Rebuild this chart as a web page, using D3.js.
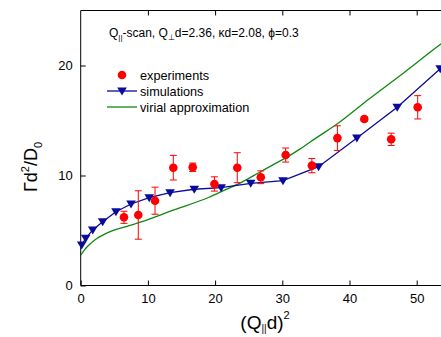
<!DOCTYPE html>
<html><head><meta charset="utf-8">
<script src="https://cdn.jsdelivr.net/npm/d3@7"></script>
<style>body{margin:0;background:#fff}svg{display:block}text{font-family:Arial,"Liberation Sans",sans-serif;fill:#000}</style>
</head><body><svg id="c" width="441" height="337"></svg>
<script>
const simX = [0.15,0.74,1.79,3.27,5.25,7.49,10.2,13.3,16.9,20.9,25.3,30.1,35.4,41.1,47.1,53.5];
const simY = [3.68,4.29,5.05,5.8,6.71,7.41,7.98,8.44,8.75,8.89,9.29,9.53,10.8,13.4,16.2,19.7];
const expX = [6.44,8.57,11.06,13.78,16.67,19.9,23.3,26.8,30.5,34.4,38.2,42.2,46.2,50.15];
const expY = [6.2,6.41,7.71,10.71,10.75,9.23,10.71,9.84,11.86,10.9,13.4,15.14,13.29,16.2];
const expErr = [0.55,2.2,1.23,1.12,0.38,0.65,1.36,0.58,0.64,0.65,1.12,0.2,0.56,1.06];
const virX = [0,0.5,1,2,4,7,9,14,19,21.5,24,26.5,29,30.5,32.6,35,38.2,43,48,53.6,54.5];
const virY = [2.75,3.2,3.55,4.1,4.8,5.4,5.78,6.9,8.0,8.7,9.4,10.25,11.1,11.6,12.4,13.4,14.7,17.0,19.3,21.95,22.35];
const xTicks = [0,10,20,30,40,50];
const yTicks = [0,10,20];

const svg = d3.select("#c");
const x = d3.scaleLinear().domain([0,54]).range([80.7, 80.7+6.72*54]);
const y = d3.scaleLinear().domain([0,25]).range([285.5, 285.5-11*25]);

const red="#ff0000", blue="#0a0a9e", green="#118811";

// frame
svg.append("line").attr("x1",x(0)).attr("x2",x(54)).attr("y1",y(0)).attr("y2",y(0)).attr("stroke","#000");
svg.append("line").attr("x1",x(0)).attr("x2",x(54)).attr("y1",y(25)).attr("y2",y(25)).attr("stroke","#000");
svg.append("line").attr("x1",x(0)).attr("x2",x(0)).attr("y1",y(0)).attr("y2",y(25)).attr("stroke","#000");

// axes
const xb = svg.append("g").attr("transform",`translate(0,${y(0)})`)
  .call(d3.axisBottom(x).tickValues(xTicks).tickSize(-5).tickPadding(8).tickFormat(d3.format("d")));
const xt = svg.append("g").attr("transform",`translate(0,${y(25)})`)
  .call(d3.axisTop(x).tickValues(xTicks.slice(1)).tickSize(-5).tickFormat(""));
const yl = svg.append("g").attr("transform",`translate(${x(0)},0)`)
  .call(d3.axisLeft(y).tickValues(yTicks).tickSize(-5).tickPadding(8).tickFormat(d3.format("d")));
[xb,xt,yl].forEach(g=>{g.select(".domain").remove();g.selectAll("line").attr("stroke","#000");
  g.selectAll("text").attr("font-size",13).style("font-family","Arial, Liberation Sans, sans-serif");});

const clip = svg.append("clipPath").attr("id","cp").append("rect")
  .attr("x",x(0)).attr("y",y(25)).attr("width",x(54)-x(0)).attr("height",y(0)-y(25));
const plot = svg.append("g").attr("clip-path","url(#cp)");

// virial
plot.append("path").datum(virX.map((v,i)=>[v,virY[i]]))
  .attr("d",d3.line().x(d=>x(d[0])).y(d=>y(d[1])).curve(d3.curveMonotoneX))
  .attr("fill","none").attr("stroke",green).attr("stroke-width",1.3);

// simulations
plot.append("path").datum(simX.map((v,i)=>[v,simY[i]]))
  .attr("d",d3.line().x(d=>x(d[0])).y(d=>y(d[1])))
  .attr("fill","none").attr("stroke",blue).attr("stroke-width",1.3);
const tri = "M-4.8,-3.5L4.8,-3.5L0,4.5Z";
svg.append("g").selectAll("path").data(simX).join("path")
  .attr("transform",(d,i)=>`translate(${x(d)},${y(simY[i])})`).attr("d",tri).attr("fill",blue);

// experiments
const eg = svg.append("g");
expX.forEach((v,i)=>{
  const cx=x(v), y1=y(expY[i]+expErr[i]), y2=y(expY[i]-expErr[i]);
  eg.append("line").attr("x1",cx).attr("x2",cx).attr("y1",y1).attr("y2",y2).attr("stroke",red).attr("stroke-width",1);
  [y1,y2].forEach(yy=>eg.append("line").attr("x1",cx-3.5).attr("x2",cx+3.5).attr("y1",yy).attr("y2",yy).attr("stroke",red).attr("stroke-width",1));
  eg.append("circle").attr("cx",cx).attr("cy",y(expY[i])).attr("r",4.3).attr("fill",red);
});

// annotation
const ann = svg.append("text").attr("x",109).attr("y",37).attr("font-size",12);
ann.append("tspan").text("Q");
ann.append("tspan").attr("font-size",8).attr("dy",3).text("||");
ann.append("tspan").attr("dy",-3).text("-scan, Q");
ann.append("tspan").attr("font-size",8).attr("dy",3).text("⊥");
ann.append("tspan").attr("dy",-3).text("d=2.36, κd=2.08, ϕ=0.3");

// legend
const lg = svg.append("g");
lg.append("circle").attr("cx",122).attr("cy",75).attr("r",4.3).attr("fill",red);
lg.append("text").attr("x",140).attr("y",79.5).attr("font-size",12.7).text("experiments");
lg.append("line").attr("x1",107).attr("x2",137).attr("y1",91).attr("y2",91).attr("stroke",blue).attr("stroke-width",1.3);
lg.append("path").attr("transform","translate(122,91)").attr("d",tri).attr("fill",blue);
lg.append("text").attr("x",140).attr("y",95.5).attr("font-size",12.7).text("simulations");
lg.append("line").attr("x1",107).attr("x2",137).attr("y1",107).attr("y2",107).attr("stroke",green).attr("stroke-width",1.3);
lg.append("text").attr("x",140).attr("y",111.5).attr("font-size",12.7).text("virial approximation");

// axis titles
const xtitle = svg.append("text").attr("x",265).attr("y",329).attr("text-anchor","middle").attr("font-size",19);
xtitle.append("tspan").text("(Q");
xtitle.append("tspan").attr("font-size",10).attr("dy",3).text("||");
xtitle.append("tspan").attr("dy",-3).text("d)");
xtitle.append("tspan").attr("font-size",11).attr("dy",-10).text("2");

const ytitle = svg.append("text").attr("transform","translate(37,167) rotate(-90)").attr("text-anchor","middle").attr("font-size",18);
ytitle.append("tspan").text("Γd");
ytitle.append("tspan").attr("font-size",11).attr("dy",-8).text("2");
ytitle.append("tspan").attr("dy",8).text("/D");
ytitle.append("tspan").attr("font-size",11).attr("dy",5).text("0");
</script></body></html>
